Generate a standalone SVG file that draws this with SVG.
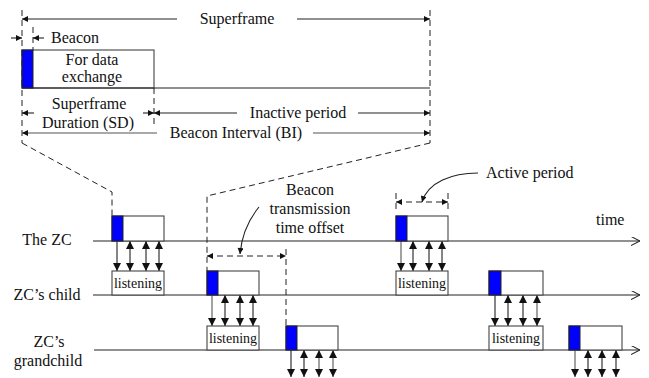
<svg xmlns="http://www.w3.org/2000/svg" width="649" height="378" viewBox="0 0 649 378">
<style>
text{font-family:"Liberation Serif","Times New Roman",serif;fill:#111}
.t16{font-size:16px}
.t14{font-size:14px}
.ln{stroke:#222;stroke-width:1.1;fill:none}
.gl{stroke:#555;stroke-width:1.1;fill:none}
.dash{stroke:#222;stroke-width:1;fill:none;stroke-dasharray:6 4}
.box{fill:#fff;stroke:#444;stroke-width:1.1}
.bcn{fill:#0000ff;stroke:#222;stroke-width:1}
</style>
<defs>
<marker id="s" viewBox="0 0 10 10" refX="10" refY="5" markerWidth="7" markerHeight="6" markerUnits="userSpaceOnUse" orient="auto-start-reverse"><path d="M0,0 L10,5 L0,10 z" fill="#111"/></marker>
<marker id="b" viewBox="0 0 10 10" refX="10" refY="5" markerWidth="9" markerHeight="8" markerUnits="userSpaceOnUse" orient="auto-start-reverse"><path d="M0,0 L10,5 L0,10 z" fill="#111"/></marker>
<marker id="o" viewBox="0 0 10 10" refX="10" refY="5" markerWidth="9" markerHeight="9" markerUnits="userSpaceOnUse" orient="auto"><path d="M0,0 L10,5 L0,10" fill="none" stroke="#222" stroke-width="1.2"/></marker>
</defs>

<!-- Top: superframe structure -->
<g id="superframe-detail">
  <rect class="box" x="22" y="50" width="132" height="38"/>
  <rect class="bcn" x="22" y="50" width="11" height="38"/>
  <line class="ln" x1="22" y1="88" x2="430" y2="88"/>
  <text class="t16" x="92" y="65" text-anchor="middle">For data</text>
  <text class="t16" x="92" y="82" text-anchor="middle">exchange</text>
</g>
<g id="dim-lines">
  <line class="dash" x1="22" y1="10" x2="22" y2="143"/>
  <line class="dash" x1="430" y1="10" x2="430" y2="143"/>
  <line class="dash" x1="33" y1="27" x2="33" y2="50"/>
  <line class="dash" x1="154" y1="88" x2="154" y2="124"/>
  <!-- Superframe -->
  <line class="ln" x1="177" y1="19" x2="22" y2="19" marker-end="url(#s)"/>
  <line class="ln" x1="297" y1="19" x2="430" y2="19" marker-end="url(#s)"/>
  <text class="t16" x="237" y="24" text-anchor="middle">Superframe</text>
  <!-- Beacon -->
  <line class="ln" x1="11" y1="38" x2="22" y2="38" marker-end="url(#s)"/>
  <line class="ln" x1="44" y1="38" x2="33" y2="38" marker-end="url(#s)"/>
  <text class="t16" x="51" y="43">Beacon</text>
  <!-- SD -->
  <line class="ln" x1="34" y1="113" x2="22" y2="113" marker-end="url(#s)"/>
  <line class="ln" x1="143" y1="113" x2="154" y2="113" marker-end="url(#s)"/>
  <text class="t16" x="89" y="109" text-anchor="middle">Superframe</text>
  <text class="t16" x="88" y="128" text-anchor="middle">Duration (SD)</text>
  <!-- Inactive -->
  <line class="ln" x1="237" y1="113" x2="154" y2="113" marker-end="url(#s)"/>
  <line class="ln" x1="358" y1="113" x2="430" y2="113" marker-end="url(#s)"/>
  <text class="t16" x="298" y="118" text-anchor="middle">Inactive period</text>
  <!-- BI -->
  <line class="gl" x1="157" y1="133" x2="22" y2="133" marker-end="url(#s)"/>
  <line class="gl" x1="313" y1="133" x2="430" y2="133" marker-end="url(#s)"/>
  <text class="t16" x="236" y="138" text-anchor="middle">Beacon Interval (BI)</text>
</g>

<!-- zoom connectors -->
<g id="connectors">
  <polyline class="dash" points="22,143 112,192 112,216"/>
  <polyline class="dash" points="430,143 207,196 207,271"/>
  <line class="dash" x1="286" y1="249" x2="286" y2="326"/>
  <line class="dash" x1="396" y1="193" x2="396" y2="212"/>
  <line class="dash" x1="448" y1="193" x2="448" y2="212"/>
  <!-- measurement arrows -->
  <line class="dash" x1="207" y1="256" x2="286" y2="256" marker-start="url(#s)" marker-end="url(#s)"/>
  <line class="dash" x1="396" y1="202" x2="448" y2="202" marker-start="url(#s)" marker-end="url(#s)"/>
  <path class="ln" d="M259,207 C250,218 242,232 240,254" marker-end="url(#s)"/>
  <path class="ln" d="M478,173 C452,173 428,182 422,202" marker-end="url(#s)"/>
  <!-- timelines -->
  <line class="ln" x1="93" y1="241" x2="640" y2="241" marker-end="url(#o)"/>
  <line class="ln" x1="93" y1="295" x2="640" y2="295" marker-end="url(#o)"/>
  <line class="ln" x1="94" y1="350" x2="640" y2="350" marker-end="url(#o)"/>
  <!-- ZC -> child (1) -->
  <line class="ln" x1="117" y1="241" x2="117" y2="271" marker-end="url(#b)"/>
  <line class="ln" x1="130" y1="241" x2="130" y2="271" marker-start="url(#b)" marker-end="url(#b)"/>
  <line class="ln" x1="146" y1="241" x2="146" y2="271" marker-start="url(#b)" marker-end="url(#b)"/>
  <line class="ln" x1="159" y1="241" x2="159" y2="271" marker-start="url(#b)" marker-end="url(#b)"/>
  <!-- child -> grandchild (1) -->
  <line class="gl" x1="212" y1="295" x2="212" y2="326" marker-end="url(#b)"/>
  <line class="ln" x1="225" y1="295" x2="225" y2="326" marker-start="url(#b)" marker-end="url(#b)"/>
  <line class="ln" x1="240" y1="295" x2="240" y2="326" marker-start="url(#b)" marker-end="url(#b)"/>
  <line class="ln" x1="253" y1="295" x2="253" y2="326" marker-start="url(#b)" marker-end="url(#b)"/>
  <!-- grandchild -> below (1) -->
  <line class="ln" x1="291" y1="350" x2="291" y2="377" marker-end="url(#b)"/>
  <line class="ln" x1="304" y1="350" x2="304" y2="377" marker-start="url(#b)" marker-end="url(#b)"/>
  <line class="gl" x1="319" y1="350" x2="319" y2="377" marker-start="url(#b)" marker-end="url(#b)"/>
  <line class="gl" x1="333" y1="350" x2="333" y2="377" marker-start="url(#b)" marker-end="url(#b)"/>
  <!-- ZC -> child (2) -->
  <line class="gl" x1="401" y1="241" x2="401" y2="271" marker-end="url(#b)"/>
  <line class="ln" x1="413" y1="241" x2="413" y2="271" marker-start="url(#b)" marker-end="url(#b)"/>
  <line class="ln" x1="429" y1="241" x2="429" y2="271" marker-start="url(#b)" marker-end="url(#b)"/>
  <line class="ln" x1="442" y1="241" x2="442" y2="271" marker-start="url(#b)" marker-end="url(#b)"/>
  <!-- child -> grandchild (2) -->
  <line class="ln" x1="495" y1="295" x2="495" y2="326" marker-end="url(#b)"/>
  <line class="ln" x1="508" y1="295" x2="508" y2="326" marker-start="url(#b)" marker-end="url(#b)"/>
  <line class="ln" x1="523" y1="295" x2="523" y2="326" marker-start="url(#b)" marker-end="url(#b)"/>
  <line class="gl" x1="537" y1="295" x2="537" y2="326" marker-start="url(#b)" marker-end="url(#b)"/>
  <!-- grandchild -> below (2) -->
  <line class="gl" x1="575" y1="350" x2="575" y2="377" marker-end="url(#b)"/>
  <line class="ln" x1="588" y1="350" x2="588" y2="377" marker-start="url(#b)" marker-end="url(#b)"/>
  <line class="ln" x1="602" y1="350" x2="602" y2="377" marker-start="url(#b)" marker-end="url(#b)"/>
  <line class="ln" x1="616" y1="350" x2="616" y2="377" marker-start="url(#b)" marker-end="url(#b)"/>
</g>

<!-- labels -->
<g id="labels">
  <text class="t16" x="47" y="245" text-anchor="middle">The ZC</text>
  <text class="t16" x="47" y="300" text-anchor="middle">ZC’s child</text>
  <text class="t16" x="49" y="347" text-anchor="middle">ZC’s</text>
  <text class="t16" x="48" y="366" text-anchor="middle">grandchild</text>
  <text class="t16" x="310" y="195" text-anchor="middle">Beacon</text>
  <text class="t16" x="310" y="214" text-anchor="middle">transmission</text>
  <text class="t16" x="310" y="233" text-anchor="middle">time offset</text>
  <text class="t16" x="486" y="178">Active period</text>
  <text class="t16" x="596" y="225">time</text>
</g>

<!-- ZC superframes -->
<g id="zc-sf1"><rect class="box" x="112" y="216" width="52" height="25"/><rect class="bcn" x="112" y="216" width="11" height="25"/></g>
<g id="zc-sf2"><rect class="box" x="396" y="216" width="52" height="25"/><rect class="bcn" x="396" y="216" width="11" height="25"/></g>
<!-- child -->
<g id="child-listen1"><rect class="box" x="112" y="271" width="52" height="24"/><text class="t14" x="138" y="288" text-anchor="middle">listening</text></g>
<g id="child-sf1"><rect class="box" x="207" y="271" width="52" height="24"/><rect class="bcn" x="207" y="271" width="11" height="24"/></g>
<g id="child-listen2"><rect class="box" x="396" y="271" width="52" height="24"/><text class="t14" x="422" y="288" text-anchor="middle">listening</text></g>
<g id="child-sf2"><rect class="box" x="489" y="271" width="54" height="24"/><rect class="bcn" x="489" y="271" width="12" height="24"/></g>
<!-- grandchild -->
<g id="gchild-listen1"><rect class="box" x="207" y="326" width="52" height="24"/><text class="t14" x="233" y="343" text-anchor="middle">listening</text></g>
<g id="gchild-sf1"><rect class="box" x="286" y="326" width="52" height="24"/><rect class="bcn" x="286" y="326" width="11" height="24"/></g>
<g id="gchild-listen2"><rect class="box" x="489" y="326" width="54" height="24"/><text class="t14" x="516" y="343" text-anchor="middle">listening</text></g>
<g id="gchild-sf2"><rect class="box" x="569" y="326" width="53" height="24"/><rect class="bcn" x="569" y="326" width="11" height="24"/></g>
</svg>
